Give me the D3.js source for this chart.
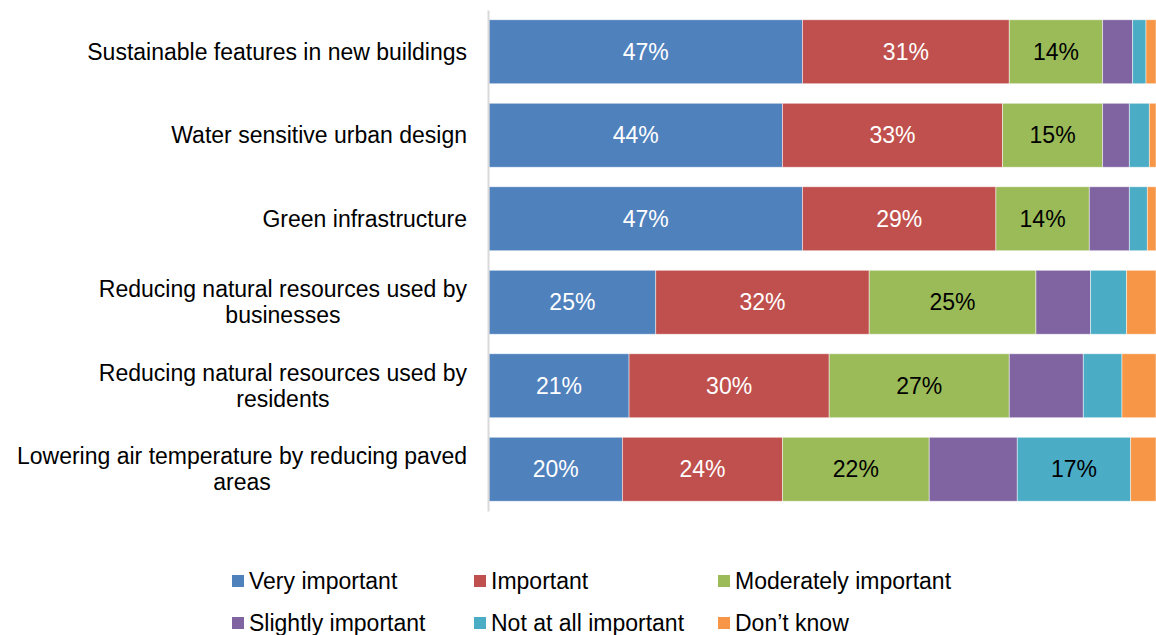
<!DOCTYPE html>
<html>
<head>
<meta charset="utf-8">
<script src="https://cdn.jsdelivr.net/npm/d3@7/dist/d3.min.js"></script>
<style>
  html, body { margin: 0; padding: 0; background: #fff; }
  svg { display: block; font-family: "Liberation Sans", Arial, sans-serif; }
</style>
</head>
<body>
<svg id="chart" width="1156" height="635"></svg>
<script>
// Survey items (top to bottom)
const categories = [
  "Sustainable features in new buildings",
  "Water sensitive urban design",
  "Green infrastructure",
  "Reducing natural resources used by businesses",
  "Reducing natural resources used by residents",
  "Lowering air temperature by reducing paved areas"
];

// Response levels, in stacking order
const seriesNames = [
  "Very important",
  "Important",
  "Moderately important",
  "Slightly important",
  "Not at all important",
  "Don\u2019t know"
];

// Share of respondents (%) per item, one array per response level
const veryImportant      = [47, 44, 47, 25, 21, 20];
const important          = [31, 33, 29, 32, 30, 24];
const moderately         = [14, 15, 14, 25, 27, 22];
const slightly           = [4.5, 4, 6, 8.2, 11.1, 13.2];
const notAtAll           = [2, 3, 2.7, 5.4, 5.8, 17];
const dontKnow           = [1.5, 1, 1.3, 4.4, 5.1, 3.8];

const seriesValues = [veryImportant, important, moderately, slightly, notAtAll, dontKnow];

const colors = ["#4F81BD", "#C0504D", "#9BBB59", "#8064A2", "#4BACC6", "#F79646"];
const labelColors = ["#ffffff", "#ffffff", "#000000", "#ffffff", "#000000", "#000000"];
const labelMin = 14;
const fontSize = 23;

const rows = categories.map((c, i) => {
  const r = { category: c };
  seriesNames.forEach((s, j) => { r[s] = seriesValues[j][i]; });
  return r;
});

const stacked = d3.stack().keys(seriesNames)(rows);

const svg = d3.select("#chart");

const x = d3.scaleLinear().domain([0, 100]).range([489, 1156]);
const y = d3.scaleBand()
  .domain(categories)
  .range([10, 511])
  .paddingInner(0.234)
  .paddingOuter(0.117);

// Bars
const layers = svg.append("g").selectAll("g")
  .data(stacked)
  .join("g")
  .attr("fill", (d, i) => colors[i]);

layers.selectAll("rect")
  .data(d => d)
  .join("rect")
  .attr("x", v => x(v[0]))
  .attr("y", v => y(v.data.category))
  .attr("width", v => x(v[1]) - x(v[0]))
  .attr("height", y.bandwidth())
  .attr("stroke", "#ffffff")
  .attr("stroke-opacity", 0.6)
  .attr("stroke-width", 0.8);

// Value labels
layers.each(function (d, i) {
  d3.select(this).selectAll("text")
    .data(d.filter(v => (v[1] - v[0]) >= labelMin))
    .join("text")
    .attr("x", v => (x(v[0]) + x(v[1])) / 2)
    .attr("y", v => y(v.data.category) + y.bandwidth() / 2)
    .attr("dy", "0.35em")
    .attr("text-anchor", "middle")
    .attr("font-size", fontSize)
    .attr("fill", labelColors[i])
    .text(v => d3.format(".0f")(v[1] - v[0]) + "%");
});

// Category axis
const yAxis = svg.append("g")
  .attr("transform", "translate(488,0)")
  .call(d3.axisLeft(y).tickSize(0).tickPadding(21));
yAxis.select(".domain").attr("stroke", "#d9d9d9").attr("stroke-width", 2);
yAxis.selectAll(".tick text")
  .attr("font-size", fontSize)
  .attr("fill", "#000")
  .attr("font-family", "Liberation Sans, Arial, sans-serif");

// Wrap long category labels; lines are centred within a right-aligned block
const maxWidth = 465;
const lineHeight = 26;
yAxis.selectAll(".tick text").each(function () {
  const t = d3.select(this);
  const words = t.text().split(" ");
  const lines = [];
  let cur = [];
  t.text(null);
  const probe = t.append("tspan");
  words.forEach(w => {
    probe.text(cur.concat([w]).join(" "));
    if (probe.node().getComputedTextLength() > maxWidth && cur.length) {
      lines.push(cur.join(" "));
      cur = [w];
    } else {
      cur.push(w);
    }
  });
  lines.push(cur.join(" "));
  const widths = lines.map(l => {
    probe.text(l);
    return probe.node().getComputedTextLength();
  });
  probe.remove();
  const blockW = d3.max(widths);
  const centerX = -21 - blockW / 2;
  const n = lines.length;
  t.attr("text-anchor", "middle").attr("x", null).attr("dy", null);
  lines.forEach((l, k) => {
    t.append("tspan")
      .attr("x", centerX)
      .attr("y", (k - (n - 1) / 2) * lineHeight)
      .attr("dy", "0.35em")
      .text(l);
  });
});

// Legend
const legendCols = [232, 474, 718];
const legendRows = [581, 623];
const legend = svg.append("g").selectAll("g")
  .data(seriesNames)
  .join("g")
  .attr("transform", (d, i) => `translate(${legendCols[i % 3]},${legendRows[Math.floor(i / 3)]})`);
legend.append("rect")
  .attr("x", 0).attr("y", -6)
  .attr("width", 12).attr("height", 12)
  .attr("fill", (d, i) => colors[i]);
legend.append("text")
  .attr("x", 17).attr("y", 0).attr("dy", "0.35em")
  .attr("font-size", fontSize)
  .attr("fill", "#000")
  .text(d => d);
</script>
</body>
</html>
